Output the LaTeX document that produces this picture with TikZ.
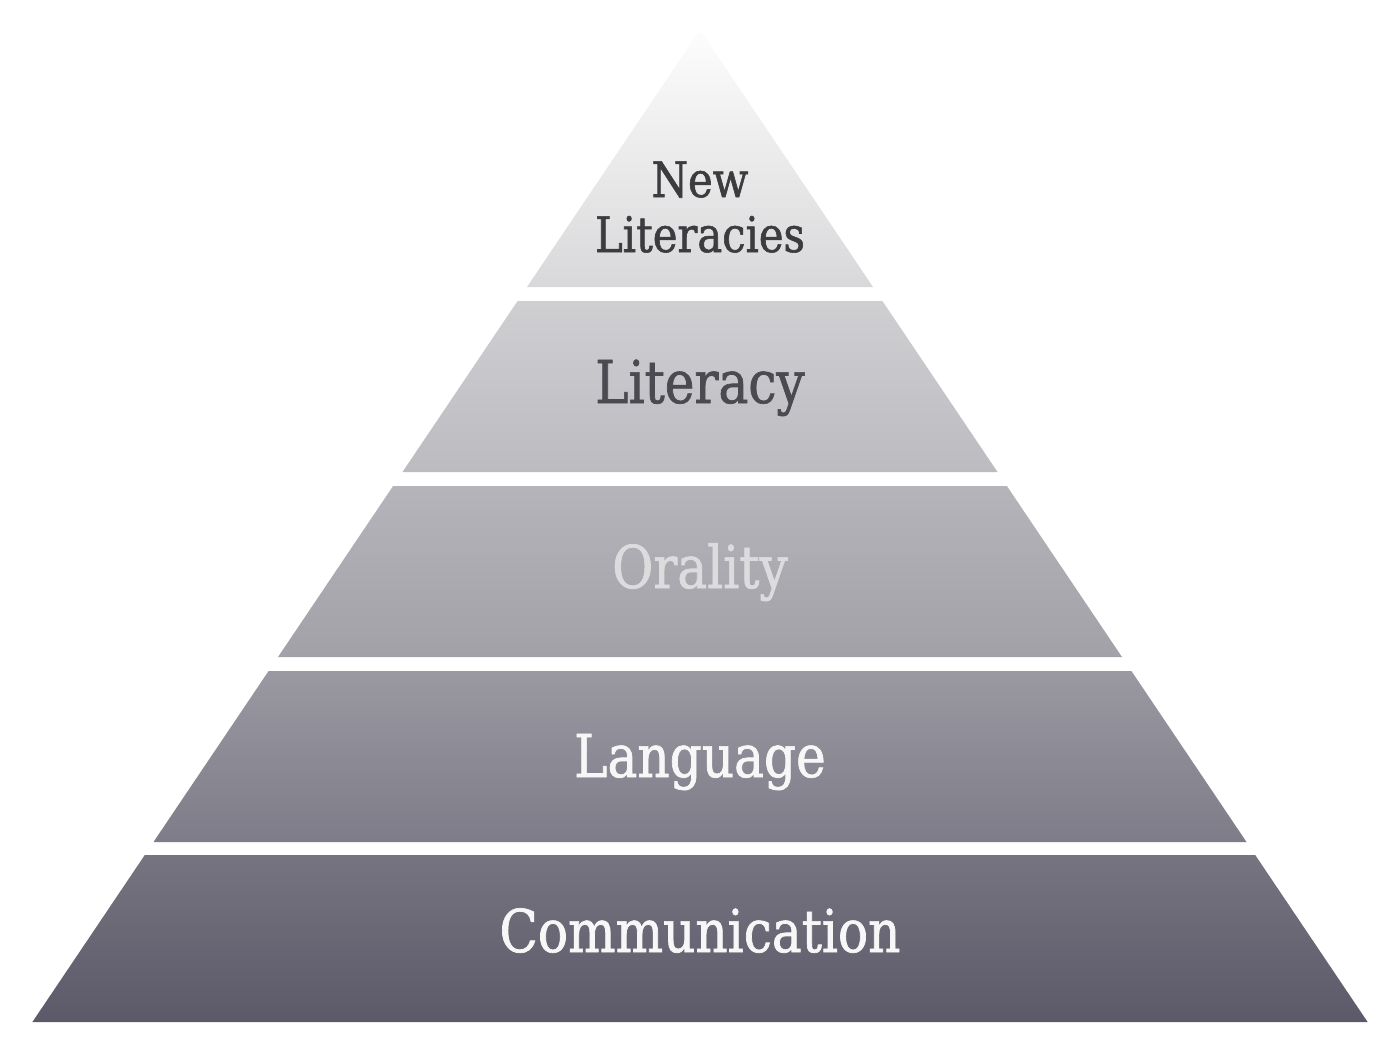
\documentclass[tikz,border=0pt]{standalone}
\usepackage{fontspec}
\setmainfont{DejaVu Serif}[FakeStretch=0.85,FakeBold=1.2]
\definecolor{bonetop}{HTML}{FDFDFD}
\definecolor{bonemid}{HTML}{EDEDEE}
\definecolor{bonebot}{HTML}{D8D8DA}
\definecolor{btwotop}{HTML}{CFCFD2}
\definecolor{btwobot}{HTML}{BCBBC0}
\definecolor{bthreetop}{HTML}{B5B4BA}
\definecolor{bthreebot}{HTML}{A2A1A8}
\definecolor{bfourtop}{HTML}{9A99A2}
\definecolor{bfourbot}{HTML}{7E7C88}
\definecolor{bfivetop}{HTML}{767480}
\definecolor{bfivebot}{HTML}{5C5A69}
\definecolor{darktxt}{HTML}{3C3C40}
\definecolor{midtxt}{HTML}{4A4A50}
\definecolor{oraltxt}{HTML}{DCDCDE}
\definecolor{lighttxt}{HTML}{F7F7F8}
\tikzset{
  bandshade/.style 2 args={top color=#1, bottom color=#2, draw=none},
  lbl/.style={inner sep=0pt, font=\fontsize{59}{66}\selectfont},
  smalllbl/.style={inner sep=0pt, align=center, font=\fontsize{49}{55}\selectfont}
}
\begin{document}
\begin{tikzpicture}[x=1pt,y=-1pt]
\useasboundingbox (0,0) rectangle (1400,1050);
\fill[white] (0,0) rectangle (1400,1050);
% band 1 (apex)
\path[top color=bonetop, middle color=bonemid, bottom color=bonebot]
  (700,30) -- (873,287) -- (527,287) -- cycle;
% band 2
\path[bandshade={btwotop}{btwobot}]
  (517.6,301) -- (882.4,301) -- (997.5,472) -- (402.5,472) -- cycle;
% band 3
\path[bandshade={bthreetop}{bthreebot}]
  (393.1,486) -- (1006.9,486) -- (1122,657) -- (278,657) -- cycle;
% band 4
\path[bandshade={bfourtop}{bfourbot}]
  (268.6,671) -- (1131.4,671) -- (1246.5,842) -- (153.5,842) -- cycle;
% band 5
\path[bandshade={bfivetop}{bfivebot}]
  (144.8,855) -- (1255.2,855) -- (1367.6,1022) -- (32.4,1022) -- cycle;
% labels
\node[smalllbl, text=darktxt] (newlit) at (700,207) {New\\Literacies};
\node[lbl, text=midtxt, anchor=base] (literacy) at (700,403) {Literacy};
\node[lbl, text=oraltxt, anchor=base] (orality) at (700,588) {Orality};
\node[lbl, text=lighttxt, anchor=base] (language) at (700,777) {Language};
\node[lbl, text=lighttxt, anchor=base] (communication) at (700,952) {Communication};
\end{tikzpicture}
\end{document}
